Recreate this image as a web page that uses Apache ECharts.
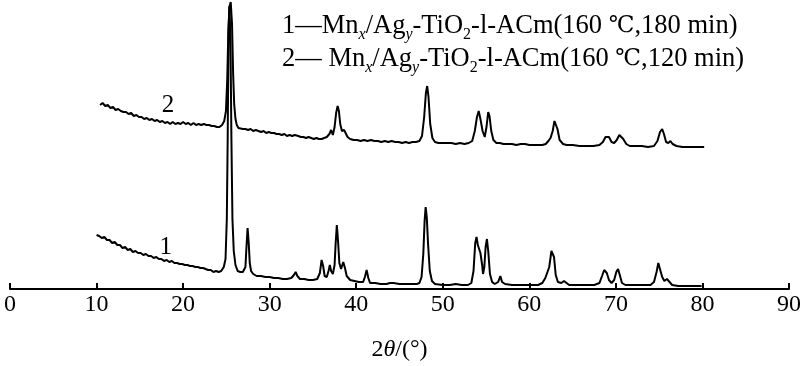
<!DOCTYPE html>
<html>
<head>
<meta charset="utf-8">
<script src="https://cdn.jsdelivr.net/npm/echarts@6/dist/echarts.min.js"></script>
<style>
html,body{margin:0;padding:0;background:#fff;}
#chart{width:800px;height:366px;}
</style>
</head>
<body>
<div id="chart"></div>
<script>
// x ticks
const xTicks = [0, 10, 20, 30, 40, 50, 60, 70, 80, 90];

// Curve 1 (160 ℃, 180 min) : [2θ, relative intensity]
const curve1 = [
[10.0,54],[10.3,53],[10.6,51],[10.9,52],[11.2,49],[11.5,49],[11.8,46],[12.1,47],[12.4,44],[12.7,44],
[13.0,41],[13.3,42],[13.6,39],[13.9,40],[14.2,37],[14.5,38],[14.8,36],[15.1,36],[15.4,34],[15.7,35],
[16.0,33],[16.3,33],[16.6,31],[16.9,32],[17.2,30],[17.5,30],[17.8,28],[18.1,29],[18.4,27],[18.7,28],
[19.0,26],[19.3,26],[19.6,25],[19.9,25],[20.2,24],[20.5,24],[20.8,23],[21.1,23],[21.4,22],[21.7,22],
[22.0,21],[22.3,21],[22.6,20],[22.9,19],[23.2,19],[23.5,17],[23.8,18],[24.1,17],[24.4,18],[24.7,22],
[24.9,30],[25.05,70],[25.15,150],[25.25,260],[25.35,283],[25.47,250],[25.58,150],[25.7,70],[25.85,38],[26.05,24],
[26.3,18],[26.6,17],[26.9,17],[27.2,22],[27.32,42],[27.45,61],[27.58,46],[27.7,26],[27.85,18],
[28.1,15],[28.5,13],[29.0,13],[29.5,12],[30.0,12],[30.5,11],[31.0,11],[31.5,10],[32.0,10],[32.5,11],
[32.8,14],[33.0,17],[33.2,13],[33.5,10],[34.0,10],[34.5,9],[35.0,9],[35.5,10],[35.8,16],[36.0,29],
[36.18,23],[36.35,13],[36.6,12],[36.8,18],[36.95,24],[37.1,18],[37.3,15],[37.5,24],[37.62,45],[37.76,64],
[37.9,48],[38.05,26],[38.25,20],[38.5,27],[38.7,21],[38.9,13],[39.3,9],[39.8,8],[40.3,7],[40.8,7],
[41.0,12],[41.2,19],[41.4,11],[41.6,6],[42.2,6],[42.8,5],[43.5,5],[43.9,6],[44.1,8],[44.3,6],
[45.0,5],[45.7,5],[46.4,5],[47.0,5],[47.3,6],[47.55,12],[47.75,35],[47.9,68],[48.02,82],[48.15,72],
[48.3,45],[48.5,18],[48.75,8],[49.1,5],[50.0,4],[50.8,4],[51.5,5],[52.2,4],[52.9,4],[53.3,6],[53.55,18],
[53.75,46],[53.9,52],[54.05,44],[54.35,36],[54.55,24],[54.65,15],[54.8,22],[54.95,42],[55.1,50],[55.25,38],
[55.45,15],[55.7,7],[56.0,5],[56.4,7],[56.65,13],[56.85,7],[57.2,5],[58.0,4],[59.0,4],[60.0,4],
[61.0,4],[61.5,6],[61.85,11],[62.05,13],[62.3,22],[62.55,38],[62.7,40],[62.85,32],[63.05,14],[63.3,7],
[63.7,6],[64.0,8],[64.2,6],[64.6,4],[65.5,4],[66.5,4],[67.5,4],[68.1,6],[68.4,13],[68.65,19],
[68.8,20],[68.95,16],[69.2,9],[69.5,6],[69.8,9],[70.05,17],[70.25,20],[70.45,14],[70.7,6],[71.1,4],
[72.0,4],[73.0,4],[74.0,4],[74.4,7],[74.7,17],[74.9,26],[75.1,24],[75.35,12],[75.6,8],[75.9,10],
[76.2,7],[76.5,4],[77.2,3],[78.0,3],[78.8,3],[79.5,3],[79.9,3]
];

// Curve 2 (160 ℃, 120 min) : [2θ, relative intensity incl. vertical offset]
const curve2 = [
[10.4,184],[10.7,186],[11.0,183],[11.3,184],[11.6,181],[11.9,182],[12.2,179],[12.5,180],[12.8,178],[13.1,177],
[13.4,177],[13.7,175],[14.0,176],[14.3,173],[14.6,174],[14.9,172],[15.2,172],[15.5,170],[15.8,171],[16.1,169],
[16.4,170],[16.7,168],[17.0,169],[17.3,167],[17.6,168],[17.9,166],[18.2,167],[18.5,165],[18.8,167],[19.1,165],
[19.4,166],[19.7,165],[20.0,167],[20.3,165],[20.6,166],[20.9,164],[21.2,166],[21.5,164],[21.8,165],[22.1,164],
[22.4,165],[22.7,164],[23.0,164],[23.3,163],[23.6,163],[23.9,162],[24.2,162],[24.5,164],[24.75,168],[24.95,178],
[25.1,210],[25.22,255],[25.35,282],[25.5,287],[25.65,265],[25.78,215],[25.9,185],[26.05,170],[26.2,164],[26.4,161],
[26.6,161],[26.9,160],[27.2,160],[27.5,159],[27.8,160],[28.1,158],[28.4,159],[28.7,158],[29.0,157],[29.3,158],
[29.6,156],[29.9,157],[30.2,156],[30.5,156],[30.8,155],[31.1,155],[31.4,154],[31.7,155],[32.0,153],[32.3,154],
[32.6,153],[32.9,154],[33.1,156],[33.3,153],[33.6,152],[33.9,152],[34.2,151],[34.5,152],[34.8,151],[35.1,150],
[35.4,151],[35.7,150],[36.0,150],[36.3,151],[36.6,152],[36.9,155],[37.1,159],[37.3,154],[37.5,162],[37.68,176],
[37.85,183],[38.0,178],[38.15,165],[38.35,158],[38.6,159],[38.8,157],[39.0,152],[39.3,150],[39.7,149],[40.1,149],
[40.5,148],[40.9,149],[41.3,148],[41.7,149],[42.1,148],[42.5,148],[42.9,147],[43.3,148],[43.7,147],[44.1,148],
[44.5,147],[44.9,147],[45.3,146],[45.7,147],[46.1,146],[46.5,147],[46.9,147],[47.3,148],[47.6,153],[47.85,172],
[48.05,196],[48.2,203],[48.35,192],[48.55,165],[48.8,151],[49.1,147],[49.5,146],[50.0,146],[50.5,146],[51.0,146],
[51.5,145],[52.0,146],[52.5,145],[53.0,146],[53.4,148],[53.7,158],[53.95,172],[54.15,178],[54.35,170],[54.6,158],
[54.85,152],[55.05,162],[55.25,177],[55.4,173],[55.6,158],[55.85,149],[56.2,146],[56.6,146],[57.0,145],[57.5,145],
[58.0,145],[58.5,144],[59.0,145],[59.5,145],[60.0,144],[60.5,144],[61.0,144],[61.5,144],[61.9,145],[62.2,148],
[62.45,151],[62.7,158],[62.9,168],[63.05,169],[63.25,160],[63.5,149],[63.9,145],[64.3,144],[65.0,144],[65.8,143],
[66.6,143],[67.4,143],[68.1,144],[68.5,147],[68.8,152],[69.0,154],[69.2,152],[69.5,147],[69.8,146],[70.1,149],
[70.4,154],[70.6,155],[70.85,150],[71.2,145],[71.6,143],[72.3,143],[73.0,143],[73.7,142],[74.4,143],[74.8,148],
[75.1,157],[75.35,160],[75.55,155],[75.8,147],[76.05,146],[76.3,148],[76.55,145],[77.0,143],[77.7,142],[78.4,142],
[79.1,142],[79.7,142],[80.2,142]
];

// curve number labels: [2θ, value, text]
const curveLabels = [[18.0, 42, '1'], [18.25, 184, '2']];

const legendLines = [
  '{n|1—Mn}{s|x}{n|/Ag}{s|y}{n|-TiO}{d|2}{n|-l-ACm(160 }{c|℃}{n|,180 min)}',
  '{n|2— Mn}{s|x}{n|/Ag}{s|y}{n|-TiO}{d|2}{n|-l-ACm(160 }{c|℃}{n|,120 min)}'
];

const FONT = '"Liberation Serif", "Times New Roman", serif';
const chart = echarts.init(document.getElementById('chart'));
chart.setOption({
  animation: false,
  backgroundColor: '#fff',
  title: {
    text: legendLines.join('\n'),
    left: 277,
    top: 5,
    textStyle: {
      fontWeight: 'normal',
      rich: {
        n: {fontFamily: FONT, fontSize: 26.5, fontWeight: 'normal', color: '#000', lineHeight: 33},
        c: {fontFamily: '"DejaVu Serif", serif', fontSize: 23, fontWeight: 'normal', color: '#000', lineHeight: 33},
        s: {fontFamily: FONT, fontSize: 16, fontWeight: 'normal', fontStyle: 'italic', color: '#000', lineHeight: 12, verticalAlign: 'bottom'},
        d: {fontFamily: FONT, fontSize: 16, fontWeight: 'normal', color: '#000', lineHeight: 12, verticalAlign: 'bottom'}
      }
    }
  },
  grid: {left: 10, right: 11, top: 0, bottom: 77, containLabel: false, outerBoundsMode: 'none'},
  xAxis: {
    type: 'value',
    min: xTicks[0],
    max: xTicks[xTicks.length - 1],
    interval: 10,
    axisLine: {lineStyle: {color: '#000', width: 2}},
    axisTick: {inside: true, length: 6, lineStyle: {color: '#000', width: 2}},
    splitLine: {show: false},
    axisLabel: {fontFamily: FONT, fontSize: 24, color: '#000', margin: 4},
    name: '{a|2}{b|θ}{a|/(°)}',
    nameLocation: 'middle',
    nameGap: 49,
    nameTextStyle: {
      rich: {
        a: {fontFamily: FONT, fontSize: 24, color: '#000'},
        b: {fontFamily: FONT, fontSize: 24, fontStyle: 'italic', color: '#000'}
      }
    }
  },
  yAxis: {type: 'value', min: 0, max: 289, show: false},
  series: [
    {
      type: 'line', data: curve1, showSymbol: false, symbol: 'none',
      lineStyle: {color: '#000', width: 2}, z: 3,
      markPoint: {
        symbol: 'circle', symbolSize: 0,
        label: {show: true, formatter: p => p.name, fontFamily: FONT, fontSize: 25, color: '#000', position: 'inside'},
        data: [{name: curveLabels[0][2], coord: [curveLabels[0][0], curveLabels[0][1]]}]
      }
    },
    {
      type: 'line', data: curve2, showSymbol: false, symbol: 'none',
      lineStyle: {color: '#000', width: 2}, z: 3,
      markPoint: {
        symbol: 'circle', symbolSize: 0,
        label: {show: true, formatter: p => p.name, fontFamily: FONT, fontSize: 25, color: '#000', position: 'inside'},
        data: [{name: curveLabels[1][2], coord: [curveLabels[1][0], curveLabels[1][1]]}]
      }
    }
  ]
});
</script>
</body>
</html>
